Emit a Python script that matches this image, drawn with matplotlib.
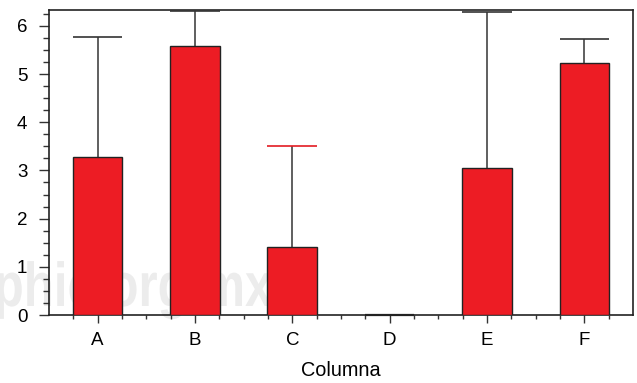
import matplotlib
matplotlib.use("Agg")
import matplotlib.pyplot as plt
from matplotlib.ticker import MultipleLocator, FixedLocator
from matplotlib.textpath import TextPath
from matplotlib.patches import PathPatch
from matplotlib.font_manager import FontProperties
from matplotlib.transforms import Affine2D, IdentityTransform
import numpy as np

categories = ["A", "B", "C", "D", "E", "F"]
means = [3.28, 5.58, 1.41, 0.0, 3.05, 5.23]
upper = [5.77, 6.31, 3.51, 0.0, 6.29, 5.73]
cap_colors = ["#333333", "#333333", "#e31b23", "#333333", "#333333", "#333333"]
watermark = "phic.org.mx"

plt.rcParams['font.family'] = ['Liberation Sans', 'DejaVu Sans']
W, H = 637, 383
fig = plt.figure(figsize=(W / 100, H / 100), dpi=100)
ax = fig.add_axes([0.0769, 0.1775, 0.9168, 0.7965])
ax.set_facecolor('none')

# faint watermark (condensed, behind bars)
tp = TextPath((0, 0), watermark, size=62, prop=FontProperties(family='Liberation Sans', weight='bold'))
ext = tp.get_extents()
sx = 275 / ext.width
tr = Affine2D().translate(-ext.x0, 0).scale(sx, 1.0).translate(-3, H - 306)
wm = PathPatch(tr.transform_path(tp), facecolor='#ececec', edgecolor='none',
               transform=IdentityTransform(), zorder=1, clip_on=False)
ax.add_artist(wm)

x = np.arange(len(categories))
ax.bar(x, means, width=0.51, color='#ed1c24', edgecolor='#222222', linewidth=1.0, zorder=3)
for i in range(len(x)):
    if upper[i] > means[i]:
        ax.vlines(x[i], means[i], upper[i], color='#444444', linewidth=1.2, zorder=2)
        ax.hlines(upper[i], x[i] - 0.255, x[i] + 0.255, color=cap_colors[i], linewidth=1.2, zorder=4)
    if means[i] == 0:
        ax.hlines(0, x[i] - 0.255, x[i] + 0.255, color='#222222', linewidth=1.6, zorder=4, clip_on=False)

ax.set_xlim(-0.5, 5.5)
ax.set_ylim(0, 6.33)
ax.set_xticks(x)
ax.set_xticklabels(categories)
ax.xaxis.set_minor_locator(FixedLocator(np.arange(-0.25, 5.5, 0.25)))
ax.yaxis.set_major_locator(MultipleLocator(1))
ax.yaxis.set_minor_locator(MultipleLocator(0.25))
ax.tick_params(axis='both', which='both', direction='out', width=1, color='#333333', labelsize=13.5)
ax.tick_params(axis='y', which='major', length=7.5, pad=8)
ax.tick_params(axis='y', which='minor', length=4)
ax.tick_params(axis='x', which='major', length=6, pad=6)
ax.tick_params(axis='x', which='minor', length=3)
for s in ax.spines.values():
    s.set_color('#222222')
    s.set_linewidth(1.2)
ax.set_xlabel("Columna", fontsize=14.3, labelpad=9)
fig.savefig("out.png", dpi=100)
